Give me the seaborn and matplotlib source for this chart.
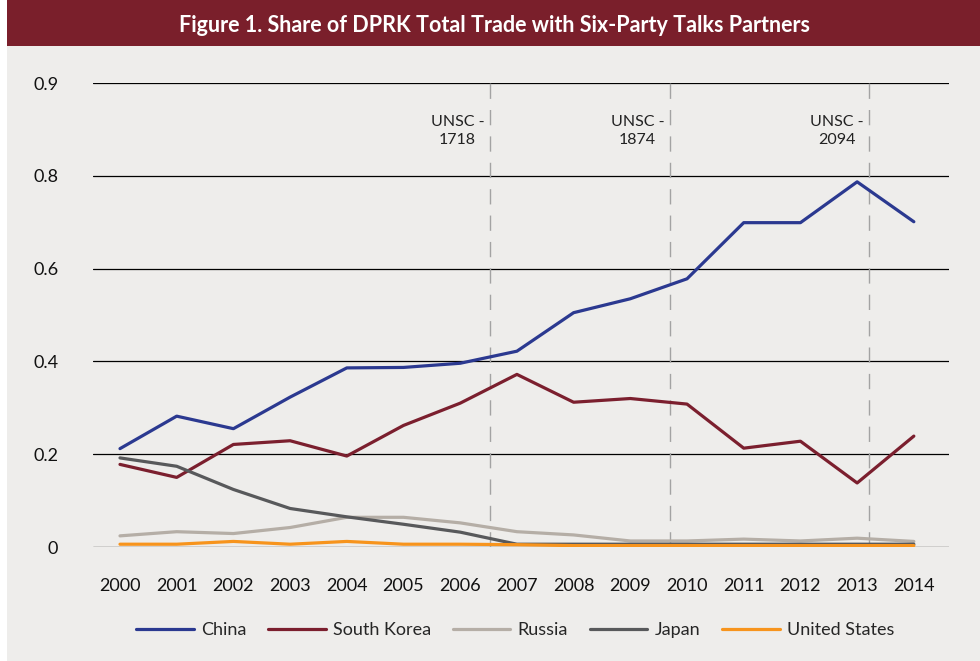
import matplotlib
matplotlib.use('agg')
import matplotlib.pyplot as plt
import seaborn as sns
import pandas as pd
from matplotlib.patches import Rectangle

years = list(range(2000, 2015))
china = [0.212, 0.282, 0.255, 0.323, 0.386, 0.387, 0.396, 0.422, 0.505, 0.535, 0.578, 0.699, 0.699, 0.787, 0.701]
south_korea = [0.178, 0.150, 0.221, 0.229, 0.196, 0.262, 0.310, 0.372, 0.312, 0.320, 0.308, 0.213, 0.228, 0.138, 0.239]
russia = [0.024, 0.033, 0.029, 0.042, 0.064, 0.064, 0.052, 0.033, 0.026, 0.013, 0.013, 0.017, 0.013, 0.019, 0.012]
japan = [0.192, 0.174, 0.124, 0.083, 0.065, 0.049, 0.032, 0.006, 0.006, 0.006, 0.006, 0.006, 0.006, 0.006, 0.006]
united_states = [0.006, 0.006, 0.012, 0.006, 0.012, 0.006, 0.006, 0.005, 0.003, 0.003, 0.003, 0.003, 0.003, 0.003, 0.003]

series_names = ['China', 'South Korea', 'Russia', 'Japan', 'United States']
colors = ['#2b3990', '#7b1f2e', '#b5aea6', '#58595b', '#f7941d']

# UN Security Council resolutions (fractional year position)
unsc_labels = ['1718', '1874', '2094']
unsc_pos = [2006.52, 2009.70, 2013.21]

y_ticks = [0, 0.2, 0.4, 0.6, 0.8, 1.0]
y_tick_labels = ['0', '0.2', '0.4', '0.6', '0.8', '0.9']

title = 'Figure 1. Share of DPRK Total Trade with Six-Party Talks Partners'


def main():
    frames = []
    for name, vals in zip(series_names, [china, south_korea, russia, japan, united_states]):
        frames.append(pd.DataFrame({'Year': years, 'Share': vals, 'Partner': name}))
    df = pd.concat(frames, ignore_index=True)

    sns.set_theme(style='white')
    plt.rcParams['font.family'] = ['Lato', 'DejaVu Sans']

    bg = '#eeedeb'
    fig = plt.figure(figsize=(9.8, 6.61), dpi=100, facecolor='white')
    fig.patches.append(Rectangle((7 / 980, 0), 1, 1, transform=fig.transFigure,
                                 facecolor=bg, edgecolor='none', zorder=-2))
    fig.patches.append(Rectangle((7 / 980, 1 - 46 / 661), 1, 46 / 661, transform=fig.transFigure,
                                 facecolor='#7a1f2b', edgecolor='none', zorder=-1))
    fig.text(494 / 980, 1 - 25 / 661, title, color='white', fontsize=15.5,
             fontweight='bold', ha='center', va='center')

    ax = fig.add_axes([93 / 980, (661 - 547) / 661, (949 - 93) / 980, (547 - 83) / 661])
    ax.set_facecolor(bg)

    sns.lineplot(data=df, x='Year', y='Share', hue='Partner', hue_order=series_names,
                 palette=dict(zip(series_names, colors)), linewidth=2.3, ax=ax,
                 zorder=3)

    for pos, lab in zip(unsc_pos, unsc_labels):
        ax.axvline(pos, color='#a3a3a3', linewidth=1, dashes=(11, 8), zorder=2)
        ax.text(pos - 0.57, 0.896, 'UNSC -\n' + lab, ha='center', va='center',
                fontsize=11.5, linespacing=1.35, color='#222222')

    ax.set_xlim(1999.524, 2014.62)
    ax.set_ylim(0, 1.0)
    ax.set_xticks(years)
    ax.set_xticklabels([str(y) for y in years])
    ax.set_yticks(y_ticks)
    ax.set_yticklabels(y_tick_labels)
    ax.yaxis.grid(True, color='black', linewidth=0.9)
    ax.set_axisbelow(True)
    for side in ['top', 'right', 'left', 'bottom']:
        ax.spines[side].set_visible(False)
    ax.tick_params(axis='both', length=0, labelsize=13, colors='#111111')
    ax.tick_params(axis='x', pad=22)
    ax.tick_params(axis='y', pad=25)
    ax.set_xlabel('')
    ax.set_ylabel('')

    handles, labels = ax.get_legend_handles_labels()
    ax.legend(handles, labels, loc='center', bbox_to_anchor=(515 / 980, 1 - 630 / 661),
              bbox_transform=fig.transFigure, ncol=5, frameon=False, fontsize=13,
              handlelength=3.2, handletextpad=0.4, columnspacing=1.2)

    plt.savefig('out.png', dpi=100, facecolor=fig.get_facecolor())


if __name__ == '__main__':
    main()
